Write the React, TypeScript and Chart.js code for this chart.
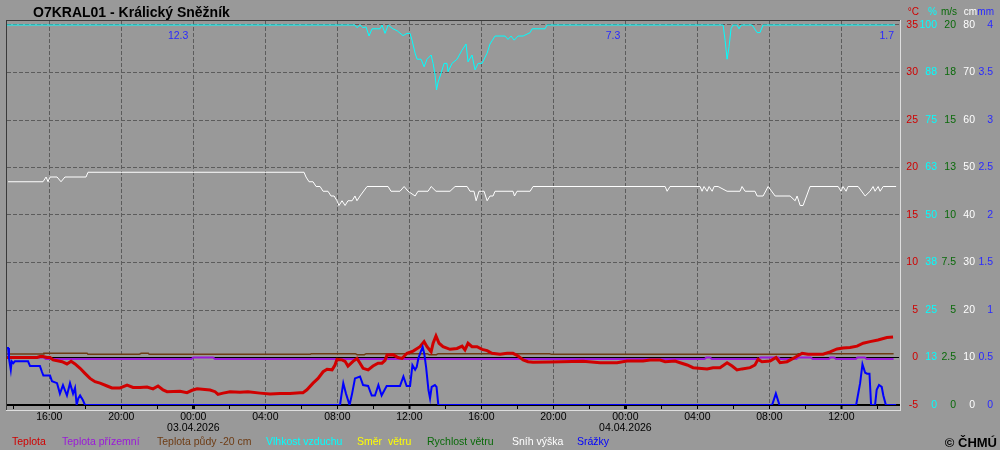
import React, { useEffect, useRef } from 'react';
import { Chart, registerables } from 'chart.js';

Chart.register(...registerables);

// ---------------- data ----------------
const STATION_TITLE = 'O7KRAL01 - Králický Sněžník';
const COPYRIGHT = '© ČHMÚ';

// hours relative to 03.04.2026 00:00
const xMinHour = -10.35;
const xMaxHour = 39.2;
const xTickHours = [-10, -8, -6, -4, -2, 0, 2, 4, 6, 8, 10, 12, 14, 16, 18, 20, 22, 24, 26, 28, 30, 32, 34, 36, 38];
const midnightHours = [0, 24];
const midnightDates = ['03.04.2026', '04.04.2026'];

const tempTicks = [-5, 0, 5, 10, 15, 20, 25, 30, 35];
const tempTickLabels = ['-5', '0', '5', '10', '15', '20', '25', '30', '35'];
const humTicks = [0, 12.5, 25, 37.5, 50, 62.5, 75, 87.5, 100];
const humTickLabels = ['0', '13', '25', '38', '50', '63', '75', '88', '100'];
const windTicks = [0, 2.5, 5, 7.5, 10, 12.5, 15, 17.5, 20];
const windTickLabels = ['0', '2.5', '5', '7.5', '10', '13', '15', '18', '20'];
const snowTicks = [0, 10, 20, 30, 40, 50, 60, 70, 80];
const snowTickLabels = ['0', '10', '20', '30', '40', '50', '60', '70', '80'];
const precTicks = [0, 0.5, 1, 1.5, 2, 2.5, 3, 3.5, 4];
const precTickLabels = ['0', '0.5', '1', '1.5', '2', '2.5', '3', '3.5', '4'];

const unitHeaders = ['°C', '%', 'm/s', 'cm', 'mm'];

const dailyPrecipEndHours = [0, 24, 48];
const dailyPrecipTotals = ['12.3', '7.3', '1.7'];

// Teplota (°C)
const tempHours = [-10.35, -8.68, -8.52, -8.35, -8.13, -7.96, -7.79, -7.29, -7.02, -6.79, -6.57, -6.29, -6.02, -5.74, -5.46, -5.18, -4.79, -4.52, -4.07, -3.68, -3.35, -2.96, -2.57, -2.24, -1.96, -1.68, -1.46, -0.74, -0.35, -0.07, 0.21, 0.93, 1.21, 1.37, 1.65, 2.04, 2.59, 3.04, 3.71, 4.26, 4.82, 5.37, 5.93, 6.09, 6.31, 6.65, 6.93, 7.21, 7.43, 7.71, 7.87, 7.98, 8.26, 8.43, 8.59, 8.87, 9.09, 9.26, 9.43, 9.71, 9.98, 10.26, 10.48, 10.65, 10.76, 11.09, 11.37, 11.59, 11.87, 12.21, 12.59, 12.82, 12.98, 13.21, 13.32, 13.48, 13.65, 13.87, 14.26, 14.65, 14.93, 15.09, 15.26, 15.48, 15.76, 16.04, 16.32, 16.59, 17.04, 17.43, 17.76, 18.04, 18.32, 18.59, 18.87, 19.82, 21.65, 22.59, 23.54, 24.09, 24.98, 25.37, 25.93, 26.21, 26.76, 27.04, 27.43, 27.76, 28.54, 28.87, 29.26, 29.65, 29.93, 30.2, 30.48, 30.93, 31.2, 31.37, 31.59, 32.04, 32.37, 32.59, 32.98, 33.32, 33.82, 34.15, 34.98, 35.37, 35.76, 36.09, 36.48, 36.87, 37.21, 37.59, 38.03, 38.53, 38.87];
const tempValues = [0.0, 0.0, 0.1, 0.1, 0.0, 0.0, -0.26, -0.44, -0.68, -0.4, -0.68, -1.14, -1.67, -2.2, -2.55, -2.7, -3.0, -3.2, -3.2, -2.9, -3.15, -3.15, -3.1, -3.3, -3.0, -3.42, -3.6, -3.55, -3.7, -3.45, -3.3, -3.42, -3.6, -3.88, -3.75, -3.6, -3.65, -3.6, -3.75, -3.85, -3.8, -3.8, -3.7, -3.7, -3.4, -2.7, -2.2, -1.5, -1.24, -1.3, -0.8, -0.2, -0.25, -0.4, -0.9, -0.4, -0.1, -0.6, -1.14, -1.3, -0.9, -0.6, -0.6, -0.3, 0.26, 0.3, 0.0, -0.1, 0.44, 0.68, 1.14, 1.67, 1.14, 0.6, 1.5, 2.26, 1.5, 1.14, 0.86, 0.95, 1.2, 0.8, 1.5, 1.14, 1.14, 0.86, 0.72, 0.44, 0.35, 0.44, 0.44, 0.16, -0.26, -0.44, -0.5, -0.47, -0.4, -0.55, -0.55, -0.37, -0.37, -0.26, -0.26, -0.44, -0.37, -0.55, -0.79, -1.07, -1.2, -1.07, -1.07, -0.55, -0.9, -1.3, -1.2, -1.07, -0.79, -0.2, -0.44, -0.37, 0.0, -0.55, -0.44, -0.1, 0.44, 0.35, 0.35, 0.6, 0.9, 1.0, 1.05, 1.2, 1.5, 1.67, 1.84, 2.1, 2.15];

// Teplota přízemní (°C)
const groundHours = [-10.35, -8.3, -8.2, -0.1, 0.0, 1.1, 1.2, 28.4, 28.5, 28.7, 28.8, 31.4, 31.5, 32.5, 32.6, 33.5, 33.6, 34.3, 34.4, 35.3, 35.4, 35.6, 35.7, 36.8, 36.9, 37.3, 37.4, 38.9];
const groundValues = [0.0, 0.0, -0.15, -0.15, 0.0, 0.0, -0.15, -0.15, 0.0, 0.0, -0.15, -0.15, 0.0, 0.0, -0.15, -0.15, 0.0, 0.0, -0.15, -0.15, 0.0, 0.0, -0.15, -0.15, 0.0, 0.0, -0.15, -0.15];

// Teplota půdy -20 cm (°C)
const soilHours = [-10.35, -8.35, -8.3, -5.9, -5.85, -3.0, -2.9, -2.5, -2.45, 6.5, 6.55, 9.0, 9.1, 9.5, 9.6, 13.0, 13.1, 13.5, 13.6, 19.8, 19.9, 33.5, 33.6, 38.9];
const soilValues = [0.37, 0.37, 0.44, 0.44, 0.33, 0.33, 0.44, 0.44, 0.33, 0.33, 0.4, 0.4, 0.3, 0.3, 0.4, 0.4, 0.3, 0.3, 0.4, 0.4, 0.33, 0.33, 0.4, 0.4];

// Vlhkost vzduchu (%)
const humHours = [-10.35, 8.98, 9.09, 9.26, 9.43, 9.59, 9.76, 9.93, 10.37, 10.48, 10.65, 10.82, 11.09, 11.32, 11.65, 11.87, 12.04, 12.15, 12.32, 12.43, 12.65, 12.82, 12.98, 13.21, 13.32, 13.43, 13.51, 13.6, 13.76, 13.93, 14.09, 14.15, 14.37, 14.65, 14.93, 15.15, 15.26, 15.48, 15.65, 15.82, 16.04, 16.32, 16.48, 16.76, 17.32, 17.48, 17.65, 17.82, 18.04, 18.32, 18.71, 18.82, 19.54, 19.65, 29.43, 29.54, 29.65, 29.76, 29.87, 29.98, 30.2, 30.31, 30.43, 31.04, 31.15, 31.32, 31.48, 31.65, 38.98];
const humValues = [100, 100, 99.3, 100, 99.3, 99.5, 97.1, 99, 99, 100, 97.8, 100, 99, 98.5, 97.2, 97.8, 97.8, 96, 92.6, 91, 91, 89, 91, 92.1, 89.9, 86.8, 82.9, 85, 87.3, 89.9, 89.9, 87.7, 89.9, 91, 93.4, 95, 90.3, 92.1, 88.2, 89.9, 89.9, 92.6, 95, 97.1, 97.1, 96.2, 97.1, 96, 97.1, 97.1, 98, 99, 99, 100, 100, 96, 91, 94.3, 99, 100, 100, 99, 100, 100, 99.2, 98, 98, 100, 100];

// Směr větru, Rychlost větru: no values in this period
const windDirHours: number[] = [];
const windDirValues: number[] = [];
const windSpeedHours: number[] = [];
const windSpeedValues: number[] = [];

// Sníh výška (cm)
const snowHours = [-10.29, -8.35, -8.18, -8.07, -7.96, -7.57, -7.35, -7.13, -5.96, -5.85, 6.15, 6.26, 6.43, 6.65, 6.82, 7.04, 7.21, 7.48, 7.65, 7.82, 7.98, 8.09, 8.26, 8.43, 8.59, 8.82, 8.98, 9.09, 9.26, 9.65, 10.82, 10.98, 11.48, 11.71, 11.93, 12.32, 12.48, 13.04, 13.21, 13.48, 14.26, 14.54, 15.21, 15.37, 15.59, 15.71, 15.87, 16.15, 16.32, 16.48, 16.65, 16.76, 17.76, 17.84, 17.98, 18.71, 18.87, 26.21, 26.32, 26.48, 28.15, 28.26, 28.37, 28.54, 28.65, 28.82, 28.93, 29.15, 29.65, 30.37, 30.48, 30.65, 31.2, 31.32, 31.65, 31.93, 32.32, 33.15, 33.43, 33.54, 33.71, 33.87, 34.26, 35.82, 35.98, 36.09, 36.26, 36.37, 36.93, 37.32, 37.59, 37.76, 37.87, 38.04, 38.15, 38.32, 39.04];
const snowValues = [47, 47, 48, 47, 48, 48, 47, 48, 48, 49, 49, 48, 47, 47, 46, 46, 45, 45, 44, 44, 43, 42, 43, 42, 43, 43, 44, 43, 44, 46, 46, 45, 45, 46, 45, 44, 45, 45, 46, 45, 45, 46, 46, 45, 45, 43, 45, 45, 43, 44, 44, 45, 45, 44, 45, 45, 46, 46, 45, 46, 46, 45, 46, 45, 46, 45, 46, 46, 45, 45, 46, 45, 45, 44, 44, 46, 44, 44, 43, 44, 42, 42, 46, 46, 45, 46, 45, 46, 46, 44, 45, 46, 45, 46, 45, 46, 46];

// Srážky (mm)
const precHours = [-10.35, -10.29, -10.24, -10.14, -10.09, -10.0, -9.91, -9.18, -9.07, -8.52, -8.41, -8.33, -7.96, -7.85, -7.57, -7.41, -7.24, -7.02, -6.85, -6.68, -6.57, -6.48, -6.39, -6.29, -6.13, -6.02, 8.15, 8.24, 8.33, 8.48, 8.68, 8.82, 8.98, 9.26, 9.43, 9.71, 9.91, 10.09, 10.28, 10.46, 10.74, 11.48, 11.67, 11.85, 12.04, 12.17, 12.32, 12.41, 12.5, 12.63, 12.74, 12.83, 12.93, 13.06, 13.15, 13.24, 13.42, 13.51, 13.61, 32.15, 32.36, 32.56, 36.82, 37.04, 37.17, 37.32, 37.43, 37.56, 37.65, 37.87, 37.96, 38.09, 38.24, 38.33, 38.47, 39.04];
const precValues = [0.6, 0.6, 0.49, 0.37, 0.46, 0.44, 0.46, 0.46, 0.41, 0.41, 0.35, 0.31, 0.31, 0.25, 0.23, 0.12, 0.21, 0.1, 0.23, 0.12, 0.18, 0.0, 0.07, 0.1, 0.05, 0.0, 0.0, 0.12, 0.23, 0.12, 0.0, 0.12, 0.28, 0.3, 0.21, 0.2, 0.1, 0.1, 0.21, 0.1, 0.2, 0.2, 0.3, 0.2, 0.2, 0.42, 0.37, 0.4, 0.49, 0.56, 0.61, 0.54, 0.4, 0.16, 0.07, 0.19, 0.21, 0.19, 0.0, 0.0, 0.12, 0.0, 0.0, 0.23, 0.43, 0.34, 0.33, 0.33, 0.0, 0.0, 0.16, 0.21, 0.19, 0.1, 0.0, 0.0];

// ---------------- styling / layout ----------------
const FONT = "'Liberation Sans', Arial, sans-serif";
const BG = '#999999';
const GRID = '#5c5c5c';
const C_RED = '#d00000';
const C_PURPLE = '#9a1ad8';
const C_BROWN = '#6e3c14';
const C_CYAN = '#00ffff';
const C_YELLOW = '#ffff00';
const C_GREEN = '#0a6a0a';
const C_WHITE = '#ffffff';
const C_BLUE = '#0000ff';
const C_BLUE_TEXT = '#2a2aff';

const TOP_EXTRA = 4 / 380; // frame gap above the top tick, as fraction of range
const extMax = (lo: number, hi: number) => hi + (hi - lo) * TOP_EXTRA;

const headerRight = [919, 937, 957, 977, 994];
const headerColors = [C_RED, C_CYAN, C_GREEN, C_WHITE, C_BLUE_TEXT];
const legendX = [12, 62, 157, 266, 357, 427, 512, 577];

const pts = (h: number[], v: number[]) => h.map((x, i) => ({ x, y: v[i] }));

const fixedTicks = (values: number[]) => (scale: any) => {
  scale.ticks = values.map((value) => ({ value }));
};
const setWidth = (w: number) => (scale: any) => {
  scale.width = w;
};

const overlayPlugin = {
  id: 'overlay',
  beforeDraw(chart: any) {
    const { ctx, width, height } = chart;
    ctx.save();
    ctx.fillStyle = BG;
    ctx.fillRect(0, 0, width, height);
    ctx.restore();
  },
  afterDraw(chart: any) {
    const ctx = chart.ctx as CanvasRenderingContext2D;
    const area = chart.chartArea;
    ctx.save();
    // sunken frame
    ctx.fillStyle = '#3a3a3a';
    ctx.fillRect(6, 20, 895, 1);
    ctx.fillRect(6, 20, 1, 391);
    ctx.fillStyle = '#dedede';
    ctx.fillRect(900, 20, 1, 391);
    ctx.fillRect(6, 410, 895, 1);

    // title
    ctx.textBaseline = 'alphabetic';
    ctx.textAlign = 'left';
    ctx.fillStyle = '#000000';
    ctx.font = `bold 14px ${FONT}`;
    ctx.fillText(STATION_TITLE, 33, 16.5);

    // unit headers
    ctx.font = `10px ${FONT}`;
    ctx.textAlign = 'right';
    unitHeaders.forEach((u, i) => {
      ctx.fillStyle = headerColors[i];
      ctx.fillText(u, headerRight[i], 14.5);
    });

    // daily precipitation totals
    const xs = chart.scales.x;
    ctx.font = `10.5px ${FONT}`;
    ctx.fillStyle = C_BLUE_TEXT;
    dailyPrecipEndHours.forEach((h, i) => {
      const px = Math.min(xs.getPixelForValue(h), area.right);
      ctx.fillText(dailyPrecipTotals[i], px - 5, 38.5);
    });

    // legend
    ctx.textAlign = 'left';
    ctx.font = `10.5px ${FONT}`;
    chart.data.datasets.forEach((ds: any, i: number) => {
      ctx.fillStyle = ds.borderColor;
      ctx.fillText(ds.label, legendX[i], 445);
    });

    // copyright
    ctx.textAlign = 'right';
    ctx.fillStyle = '#000000';
    ctx.font = `bold 13px ${FONT}`;
    ctx.fillText(COPYRIGHT, 997, 446.5);
    ctx.restore();
  },
};

const axisFont = { family: FONT, size: 10.5, lineHeight: 1.1 };

// right-side value axes: labels are right-aligned at each axis' right edge
function rightAxis(
  min: number,
  max: number,
  ticks: number[],
  labels: string[],
  color: string,
  width: number,
  gridOn: boolean,
) {
  return {
    type: 'linear' as const,
    position: 'right' as const,
    min,
    max: extMax(min, max),
    afterBuildTicks: fixedTicks(ticks),
    afterFit: setWidth(width),
    ticks: {
      color,
      font: axisFont,
      padding: 0,
      crossAlign: 'far' as const,
      autoSkip: false,
      callback: (_v: any, i: number) => labels[i],
    },
    grid: gridOn
      ? {
          display: true,
          drawOnChartArea: true,
          drawTicks: false,
          lineWidth: 1,
          color: (c: any) =>
            c.tick && c.tick.value === -5 ? 'rgba(0,0,0,0)' : c.tick && c.tick.value === 0 ? '#000000' : GRID,
        }
      : { display: false, drawTicks: false },
    border: {
      display: false,
      dash: (c: any) => (c.tick && c.tick.value === 0 ? [] : [4, 2]),
    },
  };
}

export default function App() {
  const ref = useRef<HTMLCanvasElement>(null);

  useEffect(() => {
    document.body.style.margin = '0';
    document.body.style.background = BG;
    const canvas = ref.current;
    if (!canvas) return;

    const line = (label: string, h: number[], v: number[], color: string, width: number, axis: string, order: number) => ({
      label,
      data: pts(h, v),
      borderColor: color,
      backgroundColor: color,
      borderWidth: width,
      yAxisID: axis,
      order,
      pointRadius: 0,
      tension: 0,
      fill: false,
    });

    const chart = new Chart(canvas, {
      type: 'line',
      data: {
        datasets: [
          line('Teplota', tempHours, tempValues, C_RED, 3, 'yT', 1),
          line('Teplota přízemní', groundHours, groundValues, C_PURPLE, 2, 'yT', 2),
          line('Teplota půdy -20 cm', soilHours, soilValues, C_BROWN, 1.5, 'yT', 3),
          line('Vlhkost vzduchu', humHours, humValues, C_CYAN, 1, 'yH', 4),
          line('Směr  větru', windDirHours, windDirValues, C_YELLOW, 1, 'yW', 5),
          line('Rychlost větru', windSpeedHours, windSpeedValues, C_GREEN, 1, 'yW', 5),
          line('Sníh výška', snowHours, snowValues, C_WHITE, 1, 'yS', 4),
          line('Srážky', precHours, precValues, C_BLUE, 2, 'yP', 0),
        ],
      },
      options: {
        animation: false,
        responsive: false,
        events: [],
        layout: { padding: { left: 7, top: 21, right: 7, bottom: 0 } },
        plugins: {
          legend: { display: false },
          title: { display: false },
          tooltip: { enabled: false },
        },
        scales: {
          x: {
            type: 'linear',
            position: 'bottom',
            min: xMinHour,
            max: xMaxHour,
            afterBuildTicks: fixedTicks(xTickHours),
            afterFit: (s: any) => {
              s.height = 45;
            },
            ticks: {
              color: '#000000',
              font: axisFont,
              padding: 2,
              autoSkip: false,
              maxRotation: 0,
              minRotation: 0,
              callback: (value: any) => {
                const v = Number(value);
                if (v % 4 !== 0) return '';
                const hh = ((v % 24) + 24) % 24;
                const s = String(hh).padStart(2, '0') + ':00';
                const k = midnightHours.indexOf(v);
                return k >= 0 ? [s, midnightDates[k]] : s;
              },
            },
            grid: {
              display: true,
              drawOnChartArea: true,
              drawTicks: true,
              tickLength: 4,
              lineWidth: 1,
              color: (c: any) => (c.tick && c.tick.value % 4 === 0 ? GRID : 'rgba(0,0,0,0)'),
              tickColor: '#000000',
              tickWidth: (c: any) =>
                c.tick && c.tick.value % 24 === 0 ? 3 : c.tick && c.tick.value % 12 === 0 ? 2 : 1,
            },
            border: {
              display: true,
              color: '#000000',
              width: 2,
              dash: [4, 2],
            },
          },
          yT: rightAxis(-5, 35, tempTicks, tempTickLabels, C_RED, 19, true),
          yH: rightAxis(0, 100, humTicks, humTickLabels, C_CYAN, 19, false),
          yW: rightAxis(0, 20, windTicks, windTickLabels, C_GREEN, 19, false),
          yS: rightAxis(0, 80, snowTicks, snowTickLabels, C_WHITE, 19, false),
          yP: rightAxis(0, 4, precTicks, precTickLabels, C_BLUE_TEXT, 18, false),
        },
      } as any,
      plugins: [overlayPlugin],
    });

    return () => chart.destroy();
  }, []);

  return (
    <div style={{ width: 1000, height: 450, background: BG }}>
      <canvas ref={ref} width={1000} height={450} style={{ display: 'block' }} />
    </div>
  );
}
